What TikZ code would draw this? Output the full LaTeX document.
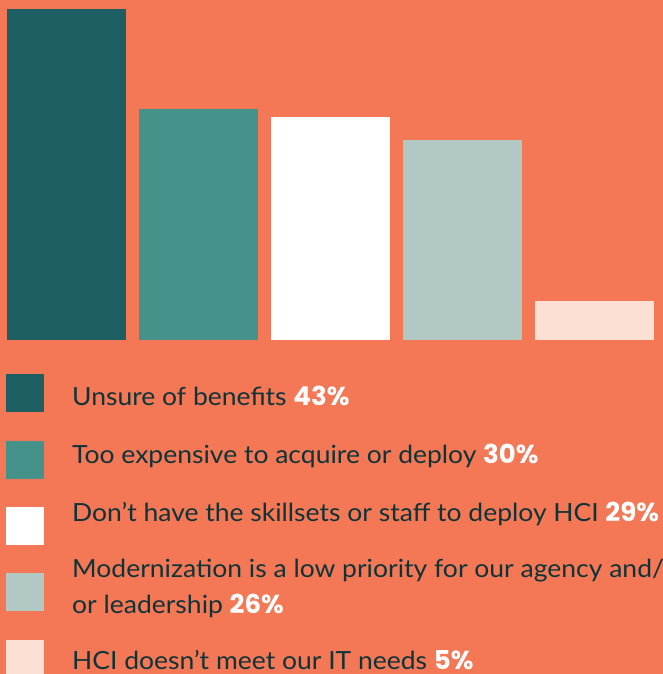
\documentclass[tikz,border=0pt]{standalone}
\usepackage{fontspec}
\setmainfont{Lato}[FakeStretch=1.06]
\newfontfamily\pctfont{Poppins}[UprightFont=* Bold, Scale=1.04]
\definecolor{bg}{HTML}{F47756}
\definecolor{cA}{HTML}{1D5E63}
\definecolor{cB}{HTML}{45928A}
\definecolor{cC}{HTML}{FFFFFF}
\definecolor{cD}{HTML}{B2C8C4}
\definecolor{cE}{HTML}{FDE0D4}
\definecolor{txt}{HTML}{0F3438}
\newcommand{\pcval}[1]{{\pctfont\color{white}#1}}
\begin{document}
\begin{tikzpicture}[x=1pt,y=-1pt,
  lab/.style={anchor=base west, inner sep=0pt, text=txt, font=\fontsize{25}{36}\selectfont}]
\fill[bg] (0,0) rectangle (663,674);
\useasboundingbox (0,0) rectangle (663,674);
\fill[cA] (7,9) rectangle (126,340);
\fill[cB] (139,109) rectangle (258,340);
\fill[cC] (271,117) rectangle (390,340);
\fill[cD] (403,140) rectangle (522,340);
\fill[cE] (535,301) rectangle (654,340);
\fill[cA] (6,374) rectangle (44,412);
\fill[cB] (6,441) rectangle (44,479);
\fill[cC] (6,507) rectangle (44,545);
\fill[cD] (6,573) rectangle (44,611);
\fill[cE] (6,640) rectangle (44,678);
\node[lab] (l1) at (72,405) {Unsure of benefits \pcval{43\%}};
\node[lab] (l2) at (72,463) {Too expensive to acquire or deploy \pcval{30\%}};
\node[lab] (l3) at (72,521) {Don’t have the skillsets or staff to deploy HCI \pcval{29\%}};
\node[lab] (l4) at (72,577) {Modernization is a low priority for our agency and/};
\node[lab] (l4b) at (72,613) {or leadership \pcval{26\%}};
\node[lab] (l5) at (72,669) {HCI doesn’t meet our IT needs \pcval{5\%}};
\end{tikzpicture}
\end{document}
